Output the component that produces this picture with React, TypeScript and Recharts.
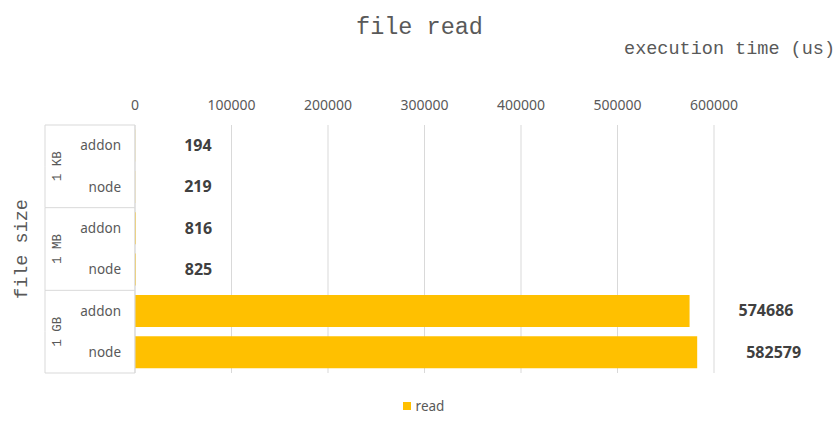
import { BarChart, Bar, XAxis, YAxis, CartesianGrid, Legend, LabelList } from 'recharts';

const groups = ['1 KB', '1 MB', '1 GB'];
const runs = ['addon', 'node'];
const readTimes = [194, 219, 816, 825, 574686, 582579];
const xTicks = [0, 100000, 200000, 300000, 400000, 500000, 600000];

const data = readTimes.map((value, i) => ({
    group: groups[Math.floor(i / runs.length)],
    run: runs[i % runs.length],
    read: value,
}));

const W = 839;
const H = 430;
const MARGIN = { top: 0, right: 125, bottom: 57, left: 0 };
const X_AXIS_H = 125;
const Y_AXIS_W = 135;
const BAND = (H - MARGIN.top - X_AXIS_H - MARGIN.bottom) / data.length;

const MONO = '"Liberation Mono", "DejaVu Sans Mono", monospace';
const SANS = '"Noto Sans", sans-serif';
const GRID = '#d9d9d9';
const TEXT = '#595959';
const BAR = '#ffc000';

function CategoryTick(props: any) {
    const { x, y, index } = props;
    const row = data[index];
    if (!row) return null;
    const first = index === 0 || data[index - 1].group !== row.group;
    const groupSize = data.filter((d) => d.group === row.group).length;
    const left = x - 90;
    const gy = y - BAND / 2 + (groupSize * BAND) / 2;
    return (
        <g>
            <text x={x - 14} y={y} dy="0.35em" textAnchor="end" fill={TEXT} fontFamily={SANS} fontSize={13.5}>
                {row.run}
            </text>
            <line x1={left} x2={left} y1={y - BAND / 2} y2={y + BAND / 2} stroke={GRID} />
            {first && (
                <>
                    <line x1={left} x2={x} y1={y - BAND / 2} y2={y - BAND / 2} stroke={GRID} />
                    <text
                        x={x - 78}
                        y={gy}
                        dy="0.35em"
                        textAnchor="middle"
                        fill={TEXT}
                        fontFamily={MONO}
                        fontSize={12.5}
                        transform={`rotate(-90 ${x - 78} ${gy})`}
                    >
                        {row.group}
                    </text>
                </>
            )}
            {index === data.length - 1 && (
                <line x1={left} x2={x} y1={y + BAND / 2} y2={y + BAND / 2} stroke={GRID} />
            )}
        </g>
    );
}

function ValueLabel(props: any) {
    const { x, y, width, height, value } = props;
    return (
        <text
            x={x + width + 49}
            y={y + height / 2}
            dy="0.35em"
            fill="#404040"
            fontFamily={SANS}
            fontWeight="bold"
            fontSize={16}
        >
            {value}
        </text>
    );
}

function LegendContent() {
    return (
        <div style={{ display: 'flex', justifyContent: 'center', alignItems: 'center', fontFamily: SANS, fontSize: 13.5, color: TEXT, paddingLeft: 8 }}>
            <span style={{ width: 8, height: 8, background: BAR, marginRight: 5, display: 'inline-block' }} />
            read
        </div>
    );
}

export default function App() {
    return (
        <div style={{ position: 'relative', width: W, height: H, background: '#fff' }}>
            <style>{'body { margin: 0; }'}</style>
            <div style={{ position: 'absolute', top: 14, left: 0, width: W, textAlign: 'center', fontFamily: MONO, fontSize: 23.5, color: TEXT }}>
                file read
            </div>
            <div style={{ position: 'absolute', top: 39, right: 4, fontFamily: MONO, fontSize: 18.5, color: TEXT }}>
                execution time (us)
            </div>
            <div
                style={{
                    position: 'absolute', left: 22, top: 249, fontFamily: MONO, fontSize: 18.5, color: TEXT,
                    transform: 'translate(-50%, -50%) rotate(-90deg)', whiteSpace: 'nowrap',
                }}
            >
                file size
            </div>
            <BarChart width={W} height={H} data={data} layout="vertical" margin={MARGIN} barCategoryGap="11%">
                <CartesianGrid horizontal={false} stroke={GRID} />
                <XAxis
                    type="number"
                    orientation="top"
                    domain={[0, 600000]}
                    ticks={xTicks}
                    height={X_AXIS_H}
                    axisLine={false}
                    tickLine={false}
                    tickSize={0}
                    tickMargin={15}
                    tick={{ fill: TEXT, fontFamily: SANS, fontSize: 14 }}
                />
                <YAxis
                    type="category"
                    dataKey="run"
                    width={Y_AXIS_W}
                    axisLine={{ stroke: GRID }}
                    tickLine={false}
                    tickSize={0}
                    tickMargin={0}
                    tick={<CategoryTick />}
                    interval={0}
                />
                <Legend
                    layout="horizontal"
                    verticalAlign="middle"
                    align="center"
                    content={<LegendContent />}
                    wrapperStyle={{ top: 397, left: 0, width: W }}
                />
                <Bar dataKey="read" fill={BAR} isAnimationActive={false}>
                    <LabelList dataKey="read" content={<ValueLabel />} />
                </Bar>
            </BarChart>
        </div>
    );
}
